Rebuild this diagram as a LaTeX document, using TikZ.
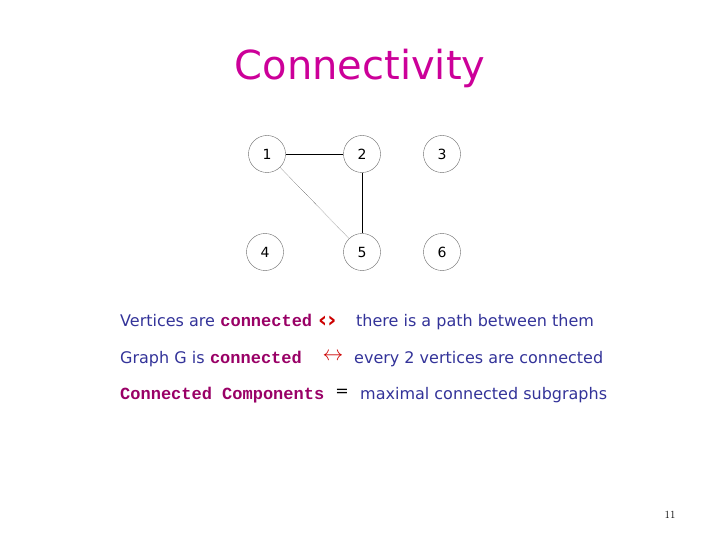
\documentclass[tikz,border=0pt]{standalone}
\usepackage{fontspec}
\setsansfont{DejaVu Sans}
\setmonofont{Liberation Mono}
\usetikzlibrary{positioning}
\definecolor{titlemag}{RGB}{204,0,153}
\definecolor{textblue}{RGB}{51,51,153}
\definecolor{termpurple}{RGB}{153,0,102}
\tikzset{
  vertex/.style={circle,draw=black!60,thin,minimum size=37pt,inner sep=0pt,font=\sffamily\fontsize{14}{16}\selectfont},
  plain/.style={textblue,font=\sffamily\fontsize{16}{18}\selectfont,anchor=base west,inner sep=0pt},
  term/.style={termpurple,font=\ttfamily\bfseries\fontsize{17}{18}\selectfont,anchor=base west,inner sep=0pt}
}
\begin{document}
\begin{tikzpicture}[x=1pt,y=-1pt]
\useasboundingbox (0,0) rectangle (720,540);

\node[titlemag,font=\sffamily\fontsize{40}{46}\selectfont] (title) at (360,68) {Connectivity};

% vertices
\node[vertex] (v1) at (267,154) {1};
\node[vertex] (v2) at (362,154) {2};
\node[vertex] (v3) at (442,154) {3};
\node[vertex] (v4) at (265,252) {4};
\node[vertex] (v5) at (362,252) {5};
\node[vertex] (v6) at (442,252) {6};
\draw (v1) -- (v2);
\draw (v2) -- (v5);
\draw[densely dotted] (v1) -- (v5);

% statements
\node[plain] (a1) at (120,326) {Vertices are};
\node[term] (a2) at (a1.base east) [xshift=5pt] {connected};
\node[red!80!black,font=\sffamily\bfseries\fontsize{22}{22}\selectfont,anchor=base west,inner sep=0pt] (a3) at (318,327) {‹›};
\node[plain] (a4) at (356,326) {there is a path between them};

\node[plain] (b1) at (120,363) {Graph G is};
\node[term] (b2) at (b1.base east) [xshift=5pt] {connected};
\node[red!80!black,font=\fontsize{22}{22}\selectfont] (b3) at (333,357) {$\leftrightarrow$};
\node[plain] (b4) at (354,363) {every 2 vertices are connected};

\node[term] (c1) at (120,399) {Connected Components};
\node[font=\sffamily\fontsize{16}{18}\selectfont] (c2) at (342,393) {=};
\node[plain] (c3) at (360,399) {maximal connected subgraphs};

\node[font=\fontsize{11}{12}\selectfont] (page) at (670,515) {11};
\end{tikzpicture}
\end{document}
